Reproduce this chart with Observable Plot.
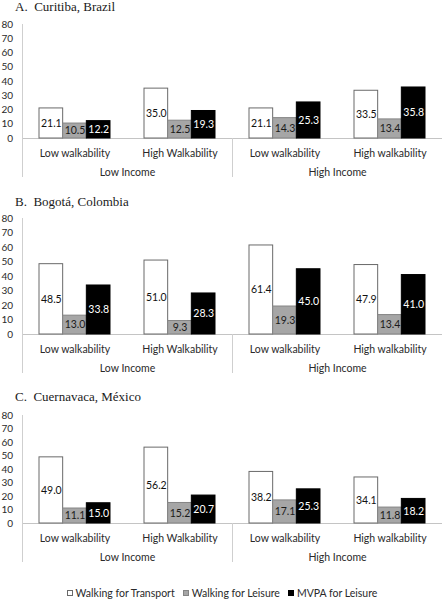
<!DOCTYPE html>
<html><head><meta charset="utf-8">
<script src="https://cdn.jsdelivr.net/npm/d3@7"></script>
<script src="https://cdn.jsdelivr.net/npm/@observablehq/plot@0.6"></script>
<style>
body{margin:0;background:#fff;}
#root{position:relative;width:444px;height:600px;overflow:hidden;background:#fff;}
.title{position:absolute;left:15px;font-family:"Liberation Serif",serif;font-size:13px;color:#1a1a1a;white-space:pre;height:16px;line-height:16px;}
.panel{position:absolute;left:0;}
.legend{position:absolute;left:0;width:444px;top:585px;height:16px;display:flex;justify-content:center;align-items:center;font-family:Lato,sans-serif;font-size:10.5px;color:#2a2a2a;}
.legend .item{display:flex;align-items:center;margin:0 4px;}
.legend .sw{width:6px;height:6px;box-sizing:border-box;border:1px solid #666;margin-right:3px;}
</style></head><body><div id="root"></div>
<script>
// ---- data ----
const cities = ["A.  Curitiba, Brazil", "B.  Bogotá, Colombia", "C.  Cuernavaca, México"];
const categories = ["Low walkability", "High Walkability", "Low walkability", "High walkability"];
const incomeGroups = ["Low Income", "High Income"];
const measures = ["Walking for Transport", "Walking for Leisure", "MVPA for Leisure"];
const yTicks = [0, 10, 20, 30, 40, 50, 60, 70, 80];
const curitiba   = [[21.1, 10.5, 12.2], [35.0, 12.5, 19.3], [21.1, 14.3, 25.3], [33.5, 13.4, 35.8]];
const bogota     = [[48.5, 13.0, 33.8], [51.0, 9.3, 28.3], [61.4, 19.3, 45.0], [47.9, 13.4, 41.0]];
const cuernavaca = [[49.0, 11.1, 15.0], [56.2, 15.2, 20.7], [38.2, 17.1, 25.3], [34.1, 11.8, 18.2]];
const cityValues = [curitiba, bogota, cuernavaca];

// ---- styles ----
const fills = ["#ffffff", "#a6a6a6", "#000000"];
const strokes = ["#6a6a6a", "#858585", "#000000"];
const labelFills = ["#111", "#1a1a1a", "#ffffff"];
const W = 444, ML = 22, MR = 2;
const BW = (W - ML - MR) / categories.length;
const GAP = 17, BARW = (BW - 2 * GAP) / measures.length;

const layouts = [
  {titleTop: -1, top: 16, height: 174, mt: 8, mb: 52},
  {titleTop: 194, top: 210, height: 174, mt: 8, mb: 50},
  {titleTop: 389, top: 405, height: 160, mt: 10, mb: 42}
];

const root = document.getElementById("root");

cities.forEach((city, ci) => {
  const L = layouts[ci];
  const rows = categories.flatMap((c, k) => measures.map((m, j) => ({cat: k, measure: j, value: cityValues[ci][k][j]})));
  const barMarks = measures.flatMap((m, j) => {
    const d = rows.filter(r => r.measure === j);
    return [
      Plot.barY(d, {x: "cat", y: "value", fill: fills[j], stroke: strokes[j], strokeWidth: 1,
        insetLeft: GAP + j * BARW, insetRight: BW - GAP - (j + 1) * BARW}),
      Plot.text(d, {x: "cat", y: r => r.value / 2, text: r => r.value.toFixed(1),
        dx: GAP + (j + 0.5) * BARW - BW / 2, fill: labelFills[j], fontSize: 10.5})
    ];
  });
  const chart = Plot.plot({
    width: W, height: L.height, marginTop: L.mt, marginBottom: L.mb, marginLeft: ML, marginRight: MR,
    x: {type: "band", domain: categories.map((c, k) => k), padding: 0},
    y: {domain: [0, 80]},
    style: {fontFamily: "Lato, sans-serif", fontSize: "10.5px", color: "#2a2a2a", background: "white", overflow: "visible"},
    marks: [
      Plot.axisY(yTicks, {tickSize: 0, tickPadding: 9.5, fontSize: 10, label: null}),
      Plot.axisX({tickSize: 0, tickPadding: 11, tickFormat: k => categories[k], fontSize: 10.5, label: null}),
      Plot.ruleY([0], {stroke: "#c4c4c4"}),
      Plot.ruleX([0], {x: d => d, y1: 80, y2: 0, dx: -BW / 2, insetBottom: -39, stroke: "#cfcfcf"}),
      Plot.ruleX([2], {x: d => d, y1: 0, y2: 0, dx: -BW / 2, insetBottom: -39, stroke: "#cfcfcf"}),
      ...barMarks,
      Plot.text(incomeGroups, {x: (d, i) => i * 2, y: 0, dx: BW / 2, dy: 34, text: d => d, fontSize: 10.5, fill: "#2a2a2a"})
    ]
  });
  const t = document.createElement("div");
  t.className = "title"; t.style.top = L.titleTop + "px"; t.textContent = city;
  root.appendChild(t);
  const p = document.createElement("div");
  p.className = "panel"; p.style.top = L.top + "px";
  p.appendChild(chart);
  root.appendChild(p);
});

const legend = document.createElement("div");
legend.className = "legend";
measures.forEach((m, j) => {
  const item = document.createElement("span"); item.className = "item";
  const sw = document.createElement("span"); sw.className = "sw";
  sw.style.background = fills[j]; sw.style.borderColor = j === 2 ? "#000" : strokes[j];
  const tx = document.createElement("span"); tx.textContent = m;
  item.appendChild(sw); item.appendChild(tx); legend.appendChild(item);
});
root.appendChild(legend);
</script></body></html>
